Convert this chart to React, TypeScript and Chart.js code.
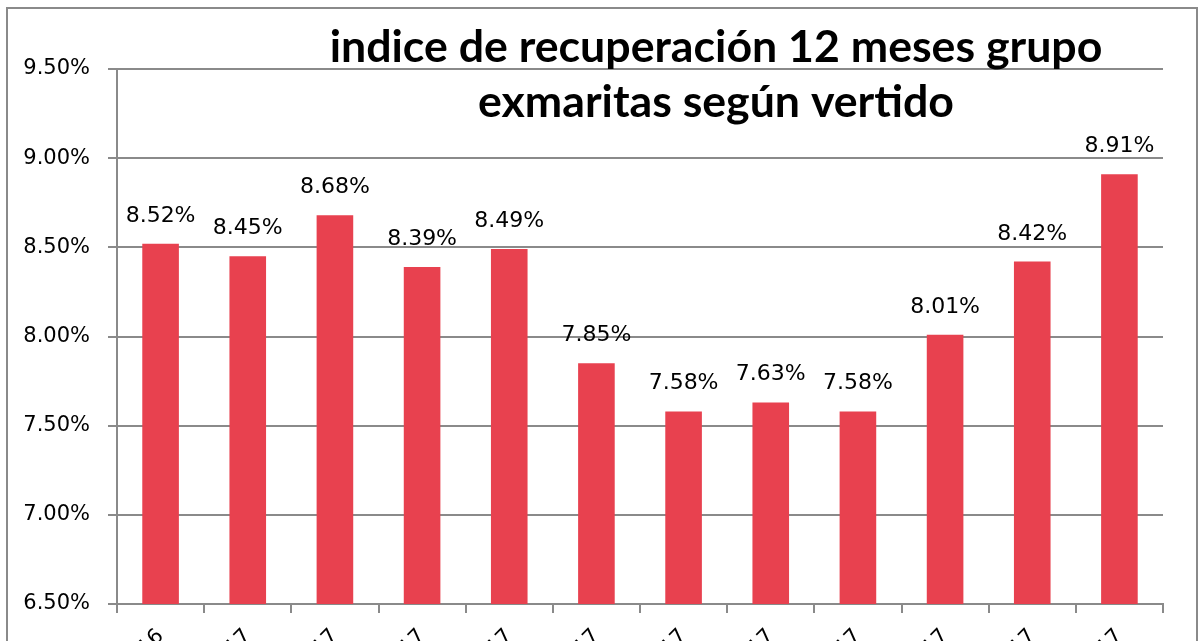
import React, { useEffect, useRef } from "react";
import { Chart, registerables } from "chart.js";

Chart.register(...registerables);

const categories = ["dic-16", "ene-17", "feb-17", "mar-17", "abr-17", "may-17", "jun-17", "jul-17", "ago-17", "sep-17", "oct-17", "nov-17"];
const values = [8.52, 8.45, 8.68, 8.39, 8.49, 7.85, 7.58, 7.63, 7.58, 8.01, 8.42, 8.91];
const titleLines = ["indice de recuperación 12 meses grupo", "exmaritas según vertido"];
const yMin = 6.5;
const yMax = 9.5;
const yStep = 0.5;

const GRID = "#8a8a8a";
const BAR = "#e8414f";
const FONT = "'DejaVu Sans', sans-serif";

export default function App() {
  const ref = useRef<HTMLCanvasElement | null>(null);

  useEffect(() => {
    if (!ref.current) return;
    const borderPlugin = {
      id: "outerBorder",
      beforeDraw(chart: any) {
        const ctx = chart.ctx;
        ctx.save();
        ctx.fillStyle = "#ffffff";
        ctx.fillRect(0, 0, chart.width, chart.height);
        ctx.strokeStyle = GRID;
        ctx.lineWidth = 2;
        ctx.strokeRect(7, 8, 1190, 900);
        ctx.restore();
      },
    };
    const labelPlugin = {
      id: "valueLabels",
      afterDatasetsDraw(chart: any) {
        const ctx = chart.ctx;
        const meta = chart.getDatasetMeta(0);
        ctx.save();
        ctx.font = `22px ${FONT}`;
        ctx.fillStyle = "#000";
        ctx.textAlign = "center";
        ctx.textBaseline = "alphabetic";
        meta.data.forEach((el: any, i: number) => {
          ctx.fillText(values[i].toFixed(2) + "%", el.x, el.y - 22);
        });
        ctx.restore();
      },
    };
    const titlePlugin = {
      id: "overlayTitle",
      afterDraw(chart: any) {
        const ctx = chart.ctx;
        ctx.save();
        ctx.font = `bold 36px Lato, sans-serif`;
        const w = ctx.measureText(titleLines[0]).width;
        const size = (36 * 773) / w;
        ctx.font = `bold ${size}px Lato, sans-serif`;
        ctx.fillStyle = "#000";
        ctx.textAlign = "center";
        ctx.textBaseline = "alphabetic";
        ctx.fillText(titleLines[0], 716, 62);
        ctx.fillText(titleLines[1], 716, 117);
        ctx.restore();
      },
    };

    const chart = new Chart(ref.current, {
      type: "bar",
      data: {
        labels: categories,
        datasets: [
          {
            data: values,
            backgroundColor: BAR,
            borderWidth: 0,
            categoryPercentage: 1,
            barPercentage: 0.42,
          },
        ],
      },
      options: {
        responsive: false,
        animation: false,
        layout: { padding: { top: 69, right: 39, bottom: 16, left: 0 } },
        plugins: {
          legend: { display: false },
          tooltip: { enabled: false },
          title: { display: false },
        },
        scales: {
          x: {
            offset: true,
            afterFit(scale: any) {
              scale.height = 100;
            },
            grid: {
              display: true,
              offset: true,
              drawOnChartArea: false,
              drawTicks: true,
              tickLength: 9,
              color: GRID,
              lineWidth: 2,
            },
            border: { display: true, color: GRID, width: 2 },
            ticks: {
              autoSkip: false,
              minRotation: 45,
              maxRotation: 45,
              padding: 11,
              color: "#000",
              font: { family: FONT, size: 21 },
            },
          },
          y: {
            min: yMin,
            max: yMax,
            afterFit(scale: any) {
              scale.width = 117;
            },
            grid: {
              color: GRID,
              lineWidth: 2,
              drawTicks: true,
              tickLength: 9,
            },
            border: { display: true, color: GRID, width: 2 },
            ticks: {
              stepSize: yStep,
              padding: 18,
              color: "#000",
              font: { family: FONT, size: 21 },
              callback: (v: any) => Number(v).toFixed(2) + "%",
            },
          },
        },
      },
      plugins: [borderPlugin, labelPlugin, titlePlugin],
    });
    return () => chart.destroy();
  }, []);

  return (
    <div style={{ position: "fixed", left: 0, top: 0, width: 1202, height: 641, overflow: "hidden", background: "#fff" }}>
      <canvas ref={ref} width={1202} height={720} style={{ display: "block" }} />
    </div>
  );
}
